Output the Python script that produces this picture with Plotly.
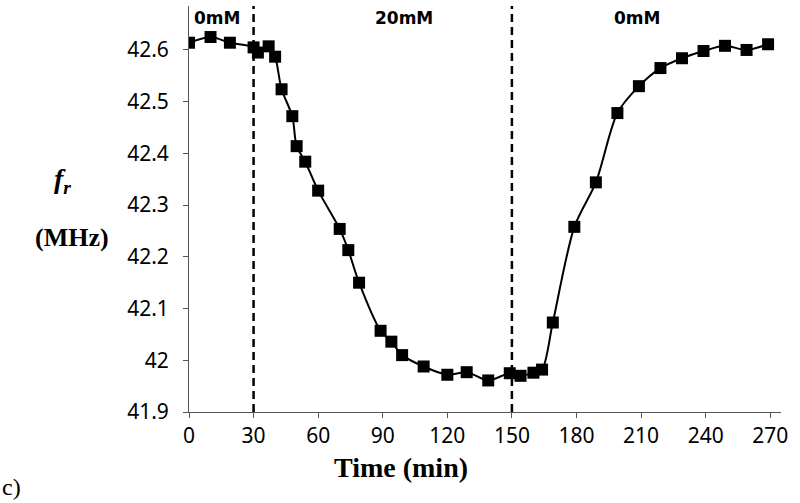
import plotly.graph_objects as go

time_min = [0, 10, 19, 30, 32, 37, 40, 43, 48, 50, 54, 60, 70, 74, 79, 89, 94, 99,
            109, 120, 129, 139, 149, 154, 160, 164, 169, 179, 189, 199, 209, 219,
            229, 239, 249, 259, 269]
freq_mhz = [42.614, 42.625, 42.614, 42.605, 42.595, 42.607, 42.587, 42.524, 42.472,
            42.414, 42.384, 42.328, 42.254, 42.213, 42.150, 42.057, 42.036, 42.010,
            41.988, 41.972, 41.977, 41.961, 41.975, 41.970, 41.976, 41.982, 42.073,
            42.258, 42.344, 42.478, 42.530, 42.565, 42.584, 42.598, 42.608, 42.600,
            42.611]

x_ticks = [0, 30, 60, 90, 120, 150, 180, 210, 240, 270]
y_ticks = [41.9, 42.0, 42.1, 42.2, 42.3, 42.4, 42.5, 42.6]
y_ticklabels = ["41.9", "42", "42.1", "42.2", "42.3", "42.4", "42.5", "42.6"]
boundaries = [30, 150]
phase_labels = ["0mM", "20mM", "0mM"]
phase_label_x = [13, 100, 208]

W, H = 800, 503
ML, MR, MT, MB = 189, 19, 6, 91
PW, PH = W - ML - MR, H - MT - MB


def px_to_paper(px, py):
    return (px - ML) / PW, (H - MB - py) / PH


fig = go.Figure()
fig.add_trace(go.Scatter(
    x=time_min, y=freq_mhz, mode="lines+markers",
    line=dict(color="black", width=2, shape="spline", smoothing=0.8),
    marker=dict(symbol="square", size=12, color="black"),
    showlegend=False, hoverinfo="skip",
))

for b in boundaries:
    fig.add_shape(type="line", x0=b, x1=b, y0=0, y1=1, xref="x", yref="paper",
                  line=dict(color="black", width=2.5, dash="8px,5px"))

for lbl, lx in zip(phase_labels, phase_label_x):
    fig.add_annotation(x=lx, y=px_to_paper(0, 18)[1], xref="x", yref="paper",
                       text="<b>%s</b>" % lbl, showarrow=False,
                       xanchor="center", yanchor="middle",
                       font=dict(family="DejaVu Sans", size=17, color="black"))

serif = "Liberation Serif"
annots = [
    dict(x=62, y=180, text="<b><i>f</i></b><sub><b><i>r</i></b></sub>", size=28),
    dict(x=72, y=237, text="<b>(MHz)</b>", size=26),
    dict(x=401, y=467, text="<b>Time (min)</b>", size=28),
    dict(x=12, y=487, text="c)", size=24),
]
for a in annots:
    xp, yp = px_to_paper(a["x"], a["y"])
    fig.add_annotation(x=xp, y=yp, xref="paper", yref="paper",
                       text=a["text"], showarrow=False, xanchor="center", yanchor="middle",
                       font=dict(family=serif, size=a["size"], color="black"))

tickfont = dict(family="Noto Sans", size=21, color="black")
fig.update_layout(
    width=W, height=H,
    margin=dict(l=ML, r=MR, t=MT, b=MB),
    paper_bgcolor="white", plot_bgcolor="white",
    xaxis=dict(range=[0, 275], tickvals=x_ticks, ticks="outside", ticklen=5,
               tickcolor="#555", showline=True, linecolor="#555", linewidth=1,
               showgrid=False, zeroline=False, tickfont=tickfont, automargin=False),
    yaxis=dict(range=[41.9, 42.685], tickvals=y_ticks, ticktext=y_ticklabels,
               ticks="outside", ticklen=5, tickcolor="#555", showline=True,
               linecolor="#555", linewidth=1, showgrid=False, zeroline=False,
               tickfont=tickfont, automargin=False, ticklabelstandoff=10),
)

fig.write_html("out.html", config={"displayModeBar": False},
               post_script="document.body.style.margin='0';document.body.style.overflow='hidden';")
